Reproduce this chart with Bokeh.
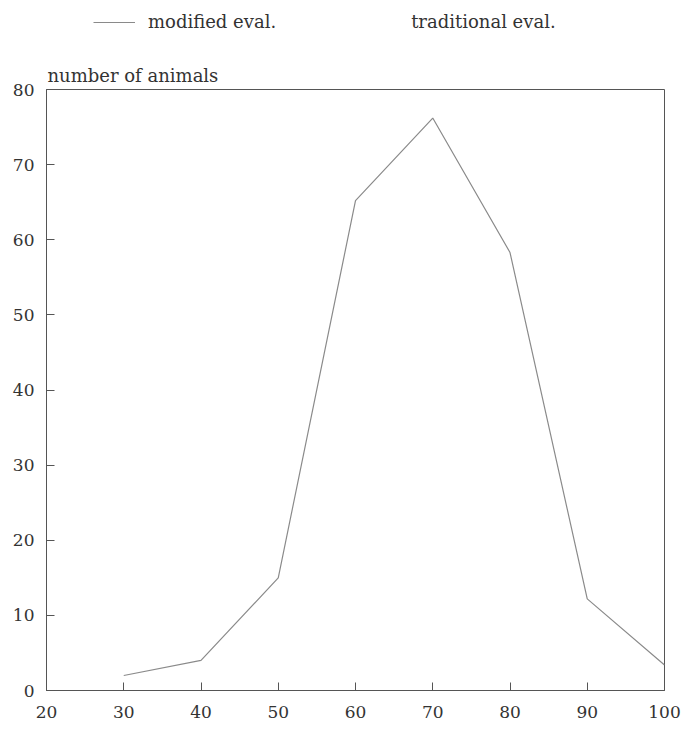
from bokeh.plotting import figure
from bokeh.layouts import column
from bokeh.models import Range1d, FixedTicker, Legend, LegendItem, Title
from bokeh.embed import file_html
from bokeh.resources import INLINE

# data
x_vals = [30, 40, 50, 60, 70, 80, 90, 100]
modified = [2.0, 4.0, 15.0, 65.2, 76.2, 58.3, 12.2, 3.4]
traditional_x = []
traditional_y = []
x_ticks = [20, 30, 40, 50, 60, 70, 80, 90, 100]
y_ticks = [0, 10, 20, 30, 40, 50, 60, 70, 80]

FONT = "DejaVu Serif"
TXT = "#333333"
AX = "#555555"
LINE = "#8a8a8a"

# ---- main chart ----
p = figure(width=687, height=681, output_backend="svg", toolbar_location=None,
           x_range=Range1d(20, 100), y_range=Range1d(0, 80),
           min_border_left=46, min_border_right=23, min_border_top=39, min_border_bottom=41)
p.title = Title(text="number of animals", align="left", text_font=FONT,
                text_font_size="18px", text_font_style="normal", text_color=TXT,
                offset=1, standoff=7)

p.xgrid.visible = False
p.ygrid.visible = False
p.outline_line_color = AX
p.outline_line_width = 1
p.background_fill_color = "white"
p.border_fill_color = "white"

for ax in (p.xaxis[0], p.yaxis[0]):
    ax.major_tick_in = 8
    ax.major_tick_out = 0
    ax.minor_tick_in = 0
    ax.minor_tick_out = 0
    ax.axis_line_color = AX
    ax.major_tick_line_color = AX
    ax.major_label_text_font = FONT
    ax.major_label_text_font_size = "17px"
    ax.major_label_text_color = TXT
p.xaxis[0].ticker = FixedTicker(ticks=x_ticks)
p.yaxis[0].ticker = FixedTicker(ticks=y_ticks)
p.xaxis[0].major_label_standoff = 15
p.yaxis[0].major_label_standoff = 12

p.line(x_vals, modified, line_color=LINE, line_width=1.2)
p.line(traditional_x, traditional_y, line_color=LINE, line_alpha=0, line_dash="4 4")

# ---- legend strip on top (its series lie outside its range, so only the key shows) ----
lg = figure(width=687, height=50, output_backend="svg", toolbar_location=None,
            x_range=Range1d(-2, -1), y_range=Range1d(-2, -1),
            min_border=0, min_border_left=0, min_border_right=0,
            min_border_top=0, min_border_bottom=0)
lg.axis.visible = False
lg.grid.visible = False
lg.outline_line_color = None
lg.title = None
r_mod = lg.line(x_vals, modified, line_color=LINE, line_width=1.2)
r_trad = lg.line(x_vals, modified, line_color=LINE, line_alpha=0, line_dash="4 4")
legend = Legend(items=[LegendItem(label="modified eval.", renderers=[r_mod]),
                       LegendItem(label="traditional eval.", renderers=[r_trad])],
                orientation="horizontal", location=(47, 18),
                padding=0, margin=0, spacing=80, label_standoff=13,
                glyph_width=42, glyph_height=20,
                border_line_alpha=0, background_fill_alpha=0,
                label_text_font=FONT, label_text_font_size="18px", label_text_color=TXT)
lg.add_layout(legend, "center")

layout = column(lg, p, spacing=0)
open("out.html", "w").write(file_html(layout, INLINE))
